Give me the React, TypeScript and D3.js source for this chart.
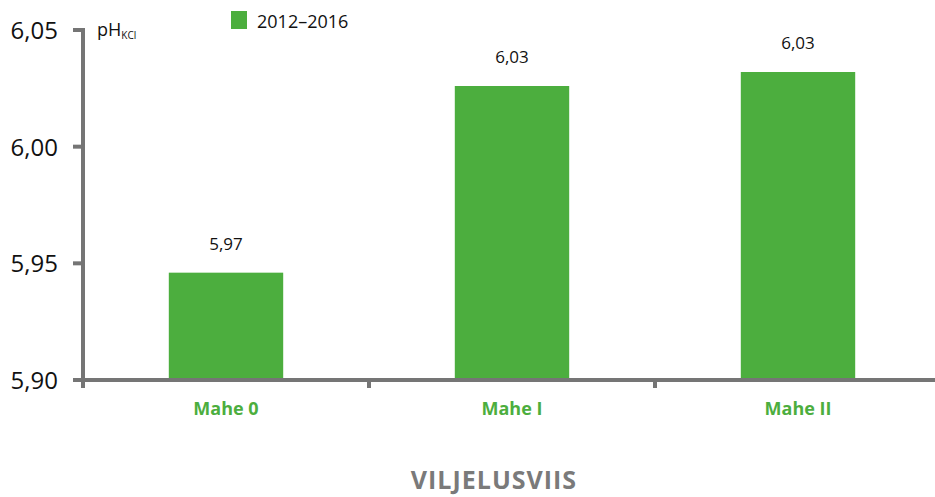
import React, { useEffect, useRef } from 'react';
import * as d3 from 'd3';

const categories = ['Mahe 0', 'Mahe I', 'Mahe II'];
const values = [5.946, 6.026, 6.032];
const valueLabels = ['5,97', '6,03', '6,03'];
const yTicks = [5.9, 5.95, 6.0, 6.05];
const seriesName = '2012–2016';

const App = () => {
    const svgRef = useRef<SVGSVGElement>(null);

    useEffect(() => {
        const svg = d3.select(svgRef.current);
        const width = 935;
        const font = '"Open Sans", "Noto Sans", sans-serif';
        const green = '#4cae3e';
        const grey = '#757575';

        svg.selectAll('*').remove();

        const x = d3.scaleBand().domain(categories).range([83, 941]).paddingInner(0).paddingOuter(0);
        const y = d3.scaleLinear().domain([5.9, 6.05]).range([380, 30]);

        // bars
        const barW = x.bandwidth() * 0.4;
        svg.selectAll('.bar')
            .data(values)
            .enter()
            .append('rect')
            .attr('x', (d, i) => x(categories[i])! + x.bandwidth() / 2 - barW / 2)
            .attr('y', d => y(d))
            .attr('width', barW)
            .attr('height', d => y(5.9) - y(d))
            .attr('fill', green);

        // value labels
        svg.selectAll('.val')
            .data(values)
            .enter()
            .append('text')
            .attr('x', (d, i) => x(categories[i])! + x.bandwidth() / 2)
            .attr('y', d => y(d) - 23)
            .attr('text-anchor', 'middle')
            .attr('font-family', font)
            .attr('font-size', 17)
            .attr('fill', '#111')
            .text((d, i) => valueLabels[i]);

        // y axis line + ticks
        svg.append('line')
            .attr('x1', 83).attr('x2', 83)
            .attr('y1', y(6.05) - 2).attr('y2', 388)
            .attr('stroke', grey).attr('stroke-width', 4);
        svg.selectAll('.ytick')
            .data(yTicks)
            .enter()
            .append('line')
            .attr('x1', 73).attr('x2', 83)
            .attr('y1', d => y(d)).attr('y2', d => y(d))
            .attr('stroke', grey).attr('stroke-width', 4);
        svg.selectAll('.ylab')
            .data(yTicks)
            .enter()
            .append('text')
            .attr('x', 58)
            .attr('y', d => y(d) + 9)
            .attr('text-anchor', 'end')
            .attr('font-family', font)
            .attr('font-size', 24)
            .attr('fill', '#111')
            .text(d => d3.format('.2f')(d).replace('.', ','));

        // x axis line + ticks
        svg.append('line')
            .attr('x1', 81).attr('x2', width)
            .attr('y1', 380).attr('y2', 380)
            .attr('stroke', grey).attr('stroke-width', 4);
        svg.selectAll('.xtick')
            .data(categories.slice(1))
            .enter()
            .append('line')
            .attr('x1', d => x(d)!).attr('x2', d => x(d)!)
            .attr('y1', 380).attr('y2', 388)
            .attr('stroke', grey).attr('stroke-width', 4);
        svg.selectAll('.xlab')
            .data(categories)
            .enter()
            .append('text')
            .attr('x', d => x(d)! + x.bandwidth() / 2)
            .attr('y', 415)
            .attr('text-anchor', 'middle')
            .attr('font-family', font)
            .attr('font-size', 18)
            .attr('font-weight', 'bold')
            .attr('fill', green)
            .text(d => d);

        // axis title
        svg.append('text')
            .attr('x', 494)
            .attr('y', 489)
            .attr('text-anchor', 'middle')
            .attr('font-family', font)
            .attr('font-size', 25)
            .attr('font-weight', 'bold')
            .attr('letter-spacing', 1)
            .attr('fill', '#7a7a7a')
            .text('VILJELUSVIIS');

        // unit
        const unit = svg.append('text')
            .attr('x', 97)
            .attr('y', 36)
            .attr('font-family', font)
            .attr('font-size', 18)
            .attr('fill', '#111');
        unit.append('tspan').text('pH');
        unit.append('tspan').attr('font-size', 10).attr('dy', 3).text('KCl');

        // legend
        svg.append('rect')
            .attr('x', 231).attr('y', 11)
            .attr('width', 16).attr('height', 18)
            .attr('fill', green);
        svg.append('text')
            .attr('x', 257)
            .attr('y', 28)
            .attr('font-family', font)
            .attr('font-size', 18)
            .attr('fill', '#111')
            .text(seriesName);
    }, []);

    return (
        <svg ref={svgRef} width={935} height={497} style={{ position: 'absolute', left: 0, top: 0 }}></svg>
    );
};

export default App;
